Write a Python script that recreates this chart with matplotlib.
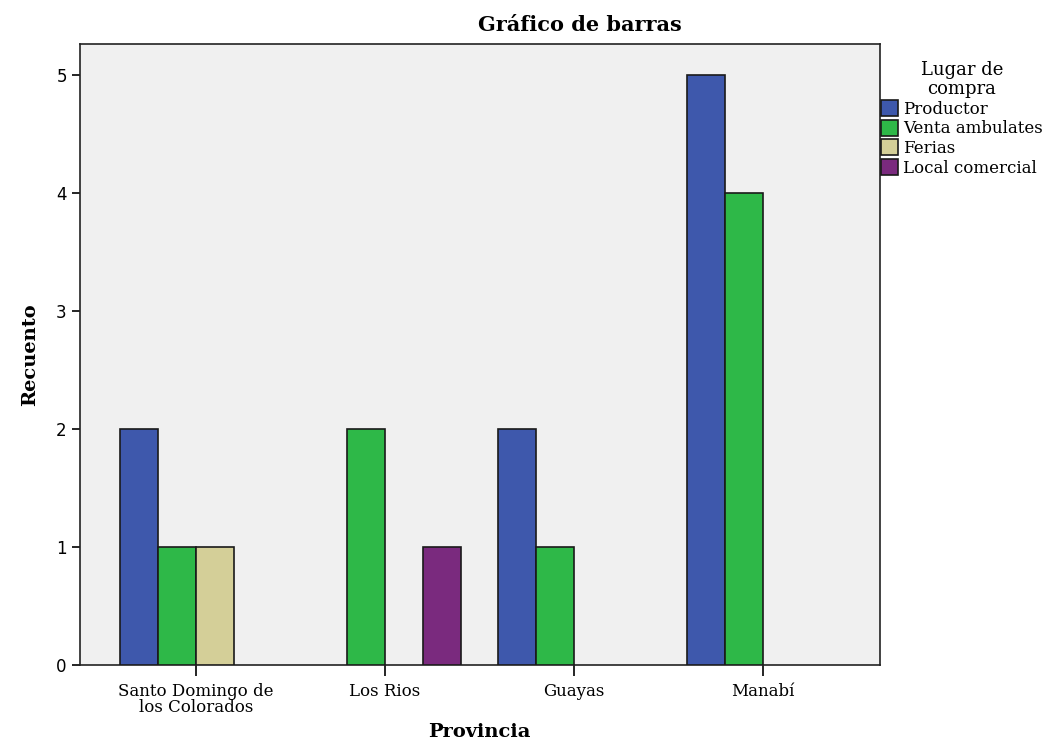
import numpy as np
import matplotlib.pyplot as plt

provincias = ["Santo Domingo de\nlos Colorados", "Los Rios", "Guayas", "Manabí"]
series = ["Productor", "Venta ambulates", "Ferias", "Local comercial"]
productor = [2, 0, 2, 5]
venta = [1, 2, 1, 4]
ferias = [1, 0, 0, 0]
local = [0, 1, 0, 0]
colores = ["#3E58AC", "#2EB848", "#D4CF98", "#7A2A7E"]

serif = "DejaVu Serif"

fig = plt.figure(figsize=(10.54, 7.47), dpi=100)
ax = fig.add_axes([0.0759, 0.1098, 0.7591, 0.8313])
ax.set_facecolor("#F0F0F0")

x = np.arange(len(provincias))
width = 0.2
handles = []
for i, (nombre, vals) in enumerate(zip(series, [productor, venta, ferias, local])):
    offset = (i - 1.5) * width
    for xi, v in zip(x, vals):
        if v > 0:
            ax.bar(xi + offset, v, width, color=colores[i], edgecolor="#1a1a1a",
                   linewidth=1.2, zorder=3)
    handles.append(plt.Rectangle((0, 0), 1, 1, facecolor=colores[i],
                                 edgecolor="#1a1a1a", linewidth=1.2))

ax.set_xlim(-0.614, 3.619)
ax.set_ylim(0, 5.26)
ax.set_xticks(x)
ax.set_xticklabels(provincias, fontfamily=serif, fontsize=12, linespacing=0.95)
ax.set_yticks(range(6))
ax.tick_params(axis="y", labelsize=12, length=6, width=1.2, direction="out")
ax.tick_params(axis="x", length=8, width=1.2, direction="out", pad=5)
for s in ax.spines.values():
    s.set_linewidth(1.2)
    s.set_color("#222222")

fig.text(0.55, 0.966, "Gráfico de barras", fontfamily=serif, fontweight="bold",
         fontsize=15, ha="center", va="center")
ax.set_ylabel("Recuento", fontfamily=serif, fontweight="bold", fontsize=14, labelpad=12)
fig.text(0.455, 0.02, "Provincia", fontfamily=serif, fontweight="bold",
         fontsize=14, ha="center", va="center")

leg = fig.legend(handles, series, loc="upper left", bbox_to_anchor=(0.836, 0.918),
                 frameon=False, title="Lugar de\ncompra",
                 prop={"family": serif, "size": 12},
                 handlelength=1.0, handleheight=1.1, handletextpad=0.3,
                 labelspacing=0.12, borderaxespad=0, borderpad=0)
leg.get_title().set_fontfamily(serif)
leg.get_title().set_fontsize(13)
leg.get_title().set_multialignment("center")
leg.get_title().set_linespacing(1.05)

fig.savefig("out.png", dpi=100)
